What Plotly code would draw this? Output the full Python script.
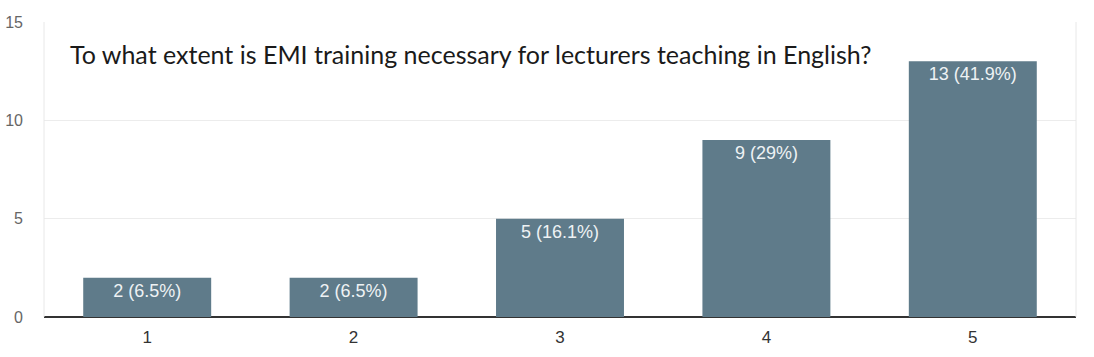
import plotly.graph_objects as go

categories = ["1", "2", "3", "4", "5"]
counts = [2, 2, 5, 9, 13]
percents = ["6.5%", "6.5%", "16.1%", "29%", "41.9%"]
y_ticks = [0, 5, 10, 15]

labels = [f"{c} ({p})" for c, p in zip(counts, percents)]

fig = go.Figure(go.Bar(
    x=categories, y=counts, text=labels,
    textposition="inside", insidetextanchor="end",
    textfont=dict(family="Liberation Sans, Arial", size=18, color="#eef2f4"),
    marker=dict(color="#5f7b8a", line=dict(width=0)),
    width=0.62, cliponaxis=False,
))

fig.update_layout(
    width=1094, height=357,
    margin=dict(l=44, r=18, t=22, b=40),
    plot_bgcolor="white", paper_bgcolor="white",
    showlegend=False,
    xaxis=dict(type="category", showgrid=False, showline=False,
               ticks="", tickfont=dict(family="Liberation Sans, Arial", size=17, color="#333"),
               ticklabelstandoff=8, automargin=False),
    yaxis=dict(range=[0, 15], tickvals=y_ticks, showgrid=True, gridcolor="#ececec",
               showline=False, zeroline=True, zerolinecolor="#333", zerolinewidth=2,
               ticks="", tickfont=dict(family="Liberation Sans, Arial", size=16, color="#666"),
               ticklabelstandoff=20, automargin=False),
    shapes=[
        dict(type="line", xref="paper", yref="paper", x0=0, x1=0, y0=0, y1=1,
             line=dict(color="#e8e8e8", width=1)),
        dict(type="line", xref="paper", yref="paper", x0=1, x1=1, y0=0, y1=1,
             line=dict(color="#e8e8e8", width=1)),
    ],
    annotations=[dict(
        text="To what extent is EMI training necessary for lecturers teaching in English?",
        xref="paper", yref="paper", x=0.023, y=0.893, xanchor="left", yanchor="middle",
        showarrow=False, font=dict(family="Lato, Open Sans", size=25, color="#1a1a1a"),
    )],
)

fig.write_html("out.html")
